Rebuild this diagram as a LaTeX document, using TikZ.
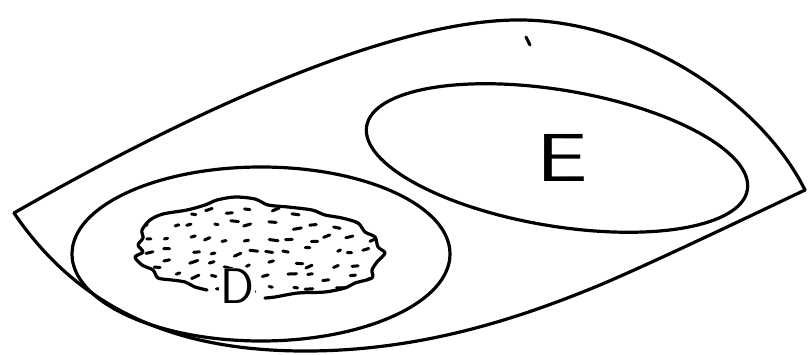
\documentclass[tikz,border=0pt]{standalone}
\begin{document}
\begin{tikzpicture}[x=1pt,y=-1pt,
  outline/.style={line width=3.2pt,line join=round,line cap=round},
  speck/.style={line width=3pt,line cap=round},
  letter/.style={inner sep=1pt}]
\useasboundingbox (0,0) rectangle (808,355);
\coordinate (tipL) at (14,213);
\coordinate (top) at (523,20);
\coordinate (tipR) at (805,190);
\coordinate (b1) at (600,285);
\coordinate (bot) at (300,351);
% outer lens
\draw[outline] (tipL) .. controls (180,118) and (390,18) .. (top)
  .. controls (640,22) and (760,100) .. (tipR);
\draw[outline] (tipR) .. controls (700,240) and (640,268) .. (b1)
  .. controls (520,318) and (420,352) .. (bot)
  .. controls (200,350) and (90,325) .. (tipL);
% ellipse D
\draw[outline] (261,254) ellipse [x radius=189pt, y radius=87pt];
% ellipse E
\draw[outline,rotate around={-9.5:(557,158)}] (557,158) ellipse [x radius=193pt, y radius=68pt];
% blob dashes
\begin{scope}
\clip plot[smooth,tension=0.5] coordinates {(207,290) (195,287) (185,282) (172,280) (158,278) (153,270) (142,265) (135,257) (143,252) (138,245) (143,238) (142,230) (150,220) (163,214) (187,210) (205,205) (217,200) (235,197) (255,199) (268,205) (288,207) (312,210) (325,215) (342,218) (358,223) (365,232) (375,237) (378,247) (385,253) (377,262) (372,270) (372,278) (355,283) (345,288) (325,292) (298,293) (275,297) (265,298)} -- cycle;
\pgfmathsetseed{11}
\foreach \gx in {152,172,...,372}{
  \foreach \gy in {212,225,...,292}{
    \pgfmathsetmacro\px{\gx+16*rnd-8}
    \pgfmathsetmacro\py{\gy+8*rnd-4}
    \pgfmathsetmacro\ang{-25+40*rnd}
    \pgfmathsetmacro\len{3+6*rnd}
    \draw[speck] (\px,\py) ++(\ang:-\len/2) -- ++(\ang:\len);
  }
}
\end{scope}
% blob outline
\draw[outline] plot[smooth,tension=0.5] coordinates {(207,290) (195,287) (185,282) (172,280) (158,278) (153,270) (142,265) (135,257) (143,252) (138,245) (143,238) (142,230) (150,220) (163,214) (187,210) (205,205) (217,200) (235,197) (255,199) (268,205) (288,207) (312,210) (325,215) (342,218) (358,223) (365,232) (375,237) (378,247) (385,253) (377,262) (372,270) (372,278) (355,283) (345,288) (325,292) (298,293) (275,297) (265,298)};
% labels
\node[letter,fill=white,font=\fontsize{50}{50}\selectfont\sffamily] (D) at (237,286) {D};
\node[letter,font=\fontsize{68}{68}\selectfont\sffamily,xscale=1.35] (E) at (562,158) {E};
% speck near top
\draw[speck] (526,37) -- (530,45);
\end{tikzpicture}
\end{document}
